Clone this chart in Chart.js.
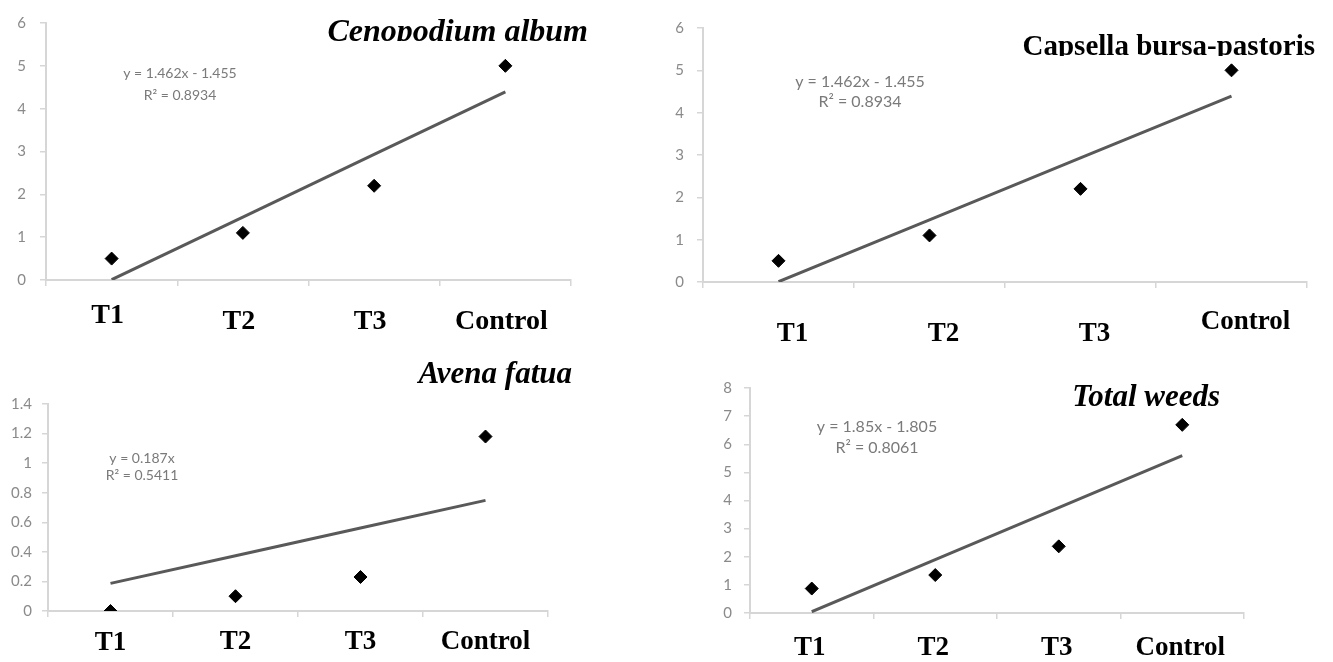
<!DOCTYPE html>
<html>
<head>
<meta charset="utf-8">
<script src="https://cdn.jsdelivr.net/npm/chart.js@4.4.1/dist/chart.umd.min.js"></script>
<style>
  html, body { margin: 0; padding: 0; background: #fff; width: 1333px; height: 662px; overflow: hidden; }
  canvas { position: absolute; }
</style>
</head>
<body>
<canvas id="c1" width="620" height="345" style="left:0px;top:0px"></canvas>
<canvas id="c2" width="673" height="345" style="left:660px;top:0px"></canvas>
<canvas id="c3" width="620" height="317" style="left:0px;top:345px"></canvas>
<canvas id="c4" width="673" height="317" style="left:660px;top:345px"></canvas>
<script>
// ---------------- data ----------------
const categories = ['T1', 'T2', 'T3', 'Control'];

const cenopodiumValues = [0.5, 1.1, 2.2, 5.0];
const cenopodiumTrend  = [0.007, 1.469, 2.931, 4.393];
const cenopodiumTicks  = [0, 1, 2, 3, 4, 5, 6];
const cenopodiumTitle  = 'Cenopodium album';
const cenopodiumEq     = ['y = 1.462x - 1.455', 'R\u00b2 = 0.8934'];

const capsellaValues = [0.5, 1.1, 2.2, 5.0];
const capsellaTrend  = [0.007, 1.469, 2.931, 4.393];
const capsellaTicks  = [0, 1, 2, 3, 4, 5, 6];
const capsellaTitle  = 'Capsella bursa-pastoris';
const capsellaEq     = ['y = 1.462x - 1.455', 'R\u00b2 = 0.8934'];

const avenaValues = [0, 0.1, 0.23, 1.18];
const avenaTrend  = [0.187, 0.374, 0.561, 0.748];
const avenaTicks  = [0, 0.2, 0.4, 0.6, 0.8, 1, 1.2, 1.4];
const avenaTitle  = 'Avena fatua';
const avenaEq     = ['y = 0.187x', 'R\u00b2 = 0.5411'];

const totalValues = [0.87, 1.35, 2.37, 6.69];
const totalTrend  = [0.045, 1.895, 3.745, 5.595];
const totalTicks  = [0, 1, 2, 3, 4, 5, 6, 7, 8];
const totalTitle  = 'Total weeds';
const totalEq     = ['y = 1.85x - 1.805', 'R\u00b2 = 0.8061'];

// ---------------- styling helpers ----------------
const SERIF = '"Liberation Serif", "Times New Roman", serif';
const SANS = 'Lato, "Open Sans", sans-serif';
const AXIS_GREY = '#d6d6d6';

const textPlugin = {
  id: 'panelText',
  afterDraw(chart, args, opts) {
    const ctx = chart.ctx;
    (opts.items || []).forEach(it => {
      ctx.save();
      if (it.clipBottom != null) {
        ctx.beginPath();
        ctx.rect(0, 0, chart.width, it.clipBottom);
        ctx.clip();
      }
      ctx.font = it.font;
      ctx.fillStyle = it.color;
      ctx.textAlign = it.align || 'left';
      ctx.textBaseline = it.baseline || 'alphabetic';
      ctx.fillText(it.text, it.x, it.y);
      ctx.restore();
    });
  }
};

function makeChart(id, p) {
  const baseLH = 1.2;
  return new Chart(document.getElementById(id), {
    type: 'line',
    data: {
      labels: categories,
      datasets: [
        {
          label: 'Trend',
          data: p.trend,
          borderColor: '#595959',
          borderWidth: 3,
          pointRadius: 0,
          fill: false,
          tension: 0,
          order: 2
        },
        {
          label: 'Observed',
          data: p.values,
          showLine: false,
          pointStyle: 'rectRot',
          pointRadius: 6.5,
          pointBackgroundColor: '#000',
          pointBorderColor: '#000',
          pointBorderWidth: 1,
          order: 1
        }
      ]
    },
    options: {
      responsive: false,
      animation: false,
      events: [],
      layout: { padding: { top: p.padTop, right: p.padRight, left: 0, bottom: 0 } },
      plugins: {
        legend: { display: false },
        tooltip: { enabled: false },
        title: { display: false },
        panelText: { items: p.texts }
      },
      scales: {
        x: {
          type: 'category',
          offset: true,
          grid: { display: true, offset: true, drawOnChartArea: false, drawTicks: true, tickLength: 6, color: AXIS_GREY, lineWidth: 1.5 },
          border: { display: true, color: AXIS_GREY, width: 2 },
          ticks: {
            padding: p.xPad,
            labelOffset: p.xLabelOffset,
            color: '#000',
            maxRotation: 0,
            autoSkip: false,
            font: (ctx) => {
              const dy = (p.xLabelDy && p.xLabelDy[ctx.index]) || 0;
              return { family: SERIF, size: p.xFont, weight: 'bold', lineHeight: baseLH + 2 * dy / p.xFont };
            }
          },
          afterFit: (s) => { s.height = p.xHeight; }
        },
        y: {
          type: 'linear',
          min: p.ticks[0],
          max: p.ticks[p.ticks.length - 1],
          afterBuildTicks: (s) => { s.ticks = p.ticks.map(v => ({ value: v })); },
          grid: { display: true, drawOnChartArea: false, drawTicks: true, tickLength: 6, color: AXIS_GREY, lineWidth: 1.5 },
          border: { display: true, color: AXIS_GREY, width: 2 },
          ticks: {
            padding: p.yPad,
            color: '#8a8a8a',
            font: { family: SANS, size: 15 },
            callback: (v) => String(Math.round(v * 100) / 100)
          },
          afterFit: (s) => { s.width = p.yWidth; }
        }
      }
    },
    plugins: [textPlugin]
  });
}

function titleItem(text, font, x, y, clip) {
  return { text, font, x, y, color: '#000', align: 'right', clipBottom: clip };
}
function eqItems(lines, size, x, y1, y2) {
  return [
    { text: lines[0], font: size + 'px ' + SANS, x, y: y1, color: '#7a7a7a', align: 'center', baseline: 'middle' },
    { text: lines[1], font: size + 'px ' + SANS, x, y: y2, color: '#7a7a7a', align: 'center', baseline: 'middle' }
  ];
}

function build() {
  makeChart('c1', {
    values: cenopodiumValues, trend: cenopodiumTrend, ticks: cenopodiumTicks,
    padTop: 17, padRight: 49, yWidth: 46, xHeight: 65, yPad: 14,
    xFont: 28, xPad: 19, xLabelOffset: -4, xLabelDy: [-6, 0, 0, 0],
    texts: [titleItem(cenopodiumTitle, 'italic bold 32px ' + SERIF, 588, 41, 41)]
      .concat(eqItems(cenopodiumEq, 14, 180, 73, 95))
  });
  makeChart('c2', {
    values: capsellaValues, trend: capsellaTrend, ticks: capsellaTicks,
    padTop: 28, padRight: 26, yWidth: 43, xHeight: 63, yPad: 13,
    xFont: 27, xPad: 18, xLabelOffset: 14, xLabelDy: [12, 12, 12, 0],
    texts: [titleItem(capsellaTitle, 'bold 29px ' + SERIF, 655, 55, 56)]
      .concat(eqItems(capsellaEq, 16, 200, 82, 102))
  });
  makeChart('c3', {
    values: avenaValues, trend: avenaTrend, ticks: avenaTicks,
    padTop: 59, padRight: 72, yWidth: 48, xHeight: 51, yPad: 10,
    xFont: 27, xPad: 9, xLabelOffset: 0, xLabelDy: [1, 0, 0, 0],
    texts: [titleItem(avenaTitle, 'italic bold 31px ' + SERIF, 572, 38, null)]
      .concat(eqItems(avenaEq, 14, 142, 113, 130))
  });
  makeChart('c4', {
    values: totalValues, trend: totalTrend, ticks: totalTicks,
    padTop: 43, padRight: 89, yWidth: 90, xHeight: 49, yPad: 12,
    xFont: 27, xPad: 13, xLabelOffset: -2, xLabelDy: [0, 0, 0, 0],
    texts: [titleItem(totalTitle, 'italic bold 31px ' + SERIF, 560, 61, null)]
      .concat(eqItems(totalEq, 16, 217, 82, 103))
  });
}

const fontLoads = [
  'bold 28px "Liberation Serif"', 'italic bold 31px "Liberation Serif"', '15px Lato'
].map(f => document.fonts.load(f).catch(() => null));
Promise.all(fontLoads).then(build, build);
</script>
</body>
</html>
